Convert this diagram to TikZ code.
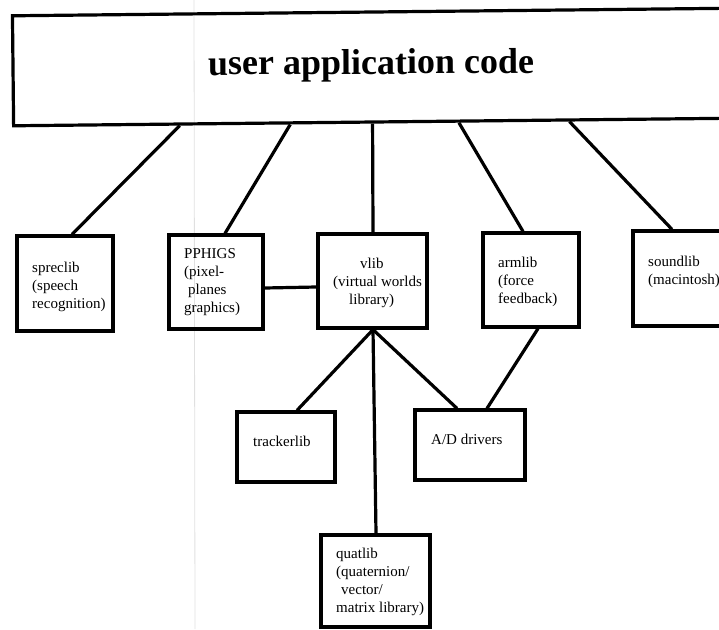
\documentclass[tikz,border=0pt]{standalone}
\usepackage{fontspec}
\setmainfont{Liberation Serif}
\usetikzlibrary{calc}
\begin{document}
\begin{tikzpicture}[x=1pt,y=-1pt,
  box/.style={draw, line width=3.2pt, inner sep=0pt},
  conn/.style={line width=3.2pt},
  lbl/.style={inner sep=0pt, anchor=north west, align=left, font=\fontsize{15}{18}\selectfont},
  titlefont/.style={inner sep=0pt, anchor=base west, font=\fontsize{36}{40}\selectfont\bfseries}
]
\useasboundingbox (0,0) rectangle (719,629);
\draw[black!12, line width=0.8pt] (194,0) -- (195,629);

% top box
\node[box, rotate=0.6, minimum width=722, minimum height=110] (top) at (374,67) {};
\node[titlefont, rotate=0.3] (title) at (208,75) {user application code};

% boxes
\node[box, minimum width=96,  minimum height=95] (spreclib) at (65,283.5) {};
\node[box, minimum width=94,  minimum height=94] (pphigs)   at (216,282) {};
\node[box, minimum width=109, minimum height=94] (vlib)     at (372.5,281) {};
\node[box, minimum width=96,  minimum height=94] (armlib)   at (531,280) {};
\node[box, minimum width=97,  minimum height=95] (soundlib) at (681.5,278.5) {};
\node[box, minimum width=98,  minimum height=70] (tracker)  at (286,447) {};
\node[box, minimum width=110, minimum height=70] (ad)       at (470,445) {};
\node[box, minimum width=109, minimum height=92] (quatlib)  at (375.5,581) {};

% labels
\node[lbl] (spreclibtxt) at (32,261.7) {spreclib\\(speech\\recognition)};
\node[lbl] (pphigstxt) at (184,248) {PPHIGS\\(pixel-\\\hspace*{4pt}planes\\graphics)};
\node[lbl] (vlibtxt) at (333,257.7) {\hspace*{27pt}vlib\\(virtual worlds\\\hspace*{16pt}library)};
\node[lbl] (armlibtxt) at (498,256.7) {armlib\\(force\\feedback)};
\node[lbl] (soundlibtxt) at (648,255.7) {soundlib\\(macintosh)};
\node[lbl] (trackertxt) at (253,435.7) {trackerlib};
\node[lbl] (adtxt) at (431,434) {A/D drivers};
\node[lbl] (quatlibtxt) at (336,547.7) {quatlib\\(quaternion/\\\hspace*{5pt}vector/\\matrix library)};

% connectors
\draw[conn] ($(top.south west)!0.2313!(top.south east)$) -- ([xshift=7pt]spreclib.north);
\draw[conn] ($(top.south west)!0.3837!(top.south east)$) -- ([xshift=9pt]pphigs.north);
\draw[conn] ($(top.south west)!0.4972!(top.south east)$) -- ([xshift=0.5pt]vlib.north);
\draw[conn] ($(top.south west)!0.6163!(top.south east)$) -- ([xshift=-8pt]armlib.north);
\draw[conn] ($(top.south west)!0.7687!(top.south east)$) -- ([xshift=-9.5pt]soundlib.north);
\draw[conn] ([yshift=-6pt]pphigs.east) -- ([yshift=-6pt]vlib.west);
\draw[conn] ([xshift=0.5pt]vlib.south) -- ([xshift=11pt]tracker.north);
\draw[conn] ([xshift=0.5pt]vlib.south) -- ([xshift=0.5pt]quatlib.north);
\draw[conn] ([xshift=0.5pt]vlib.south) -- ([xshift=-13pt]ad.north);
\draw[conn] ([xshift=7pt]armlib.south) -- ([xshift=17pt]ad.north);
\end{tikzpicture}
\end{document}
